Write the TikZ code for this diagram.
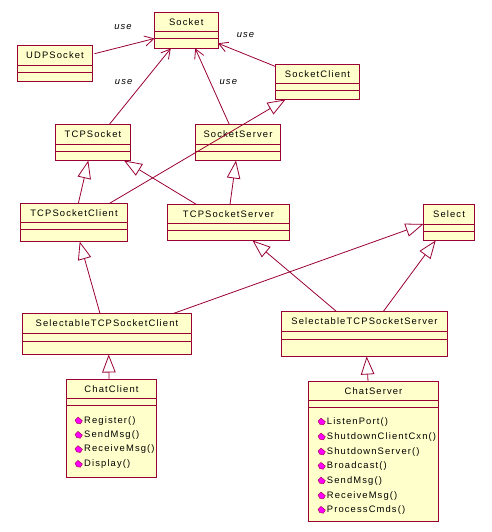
\documentclass[tikz,border=0pt]{standalone}
\usepackage{fontspec}
\setmainfont{Liberation Sans}
\newfontfamily\umlfont[LetterSpace=12]{Liberation Sans}
\usepackage{tikz}
\usetikzlibrary{arrows.meta}
\usepackage{xcolor}
\definecolor{umlline}{HTML}{990033}
\definecolor{umlfill}{HTML}{FFFFCC}
\definecolor{umlicon}{HTML}{FF00FF}

\tikzset{
  classbox/.style={draw=umlline, fill=umlfill, line width=0.9pt, inner sep=0pt, outer sep=0pt},
  classname/.style={inner sep=0pt, font=\umlfont\fontsize{9.4}{11}\selectfont},
  methodname/.style={inner sep=0pt, anchor=west, font=\umlfont\fontsize{9.4}{11}\selectfont},
  uselabel/.style={inner sep=0pt, font=\umlfont\itshape\fontsize{9.4}{11}\selectfont},
  divider/.style={umlline, line width=0.9pt},
  uses/.style={umlline, line width=0.8pt, -{Straight Barb[length=9pt,width=10pt]}},
  inherits/.style={umlline, line width=0.8pt, -{Triangle[open,length=18pt,width=13.5pt]}},
  methodicon/.style={fill=umlicon, draw=umlline, line width=0.4pt}
}

% name, left, top, right, bottom, first divider, second divider, text
\newcommand{\umlclass}[8]{%
  \node[classbox, minimum width=#4pt-#2pt, minimum height=#5pt-#3pt]
    (#1) at ({(#2+#4)/2}, {(#3+#5)/2}) {};
  \draw[divider] (#2, #6) -- (#4, #6);
  \draw[divider] (#2, #7) -- (#4, #7);
  \node[classname] (#1-name) at ({(#2+#4)/2}, {(#3+#6)/2}) {#8};
}
\newcommand{\umlicon}[2]{%
  \draw[methodicon] (#1-3.7, #2-0.6) -- ++(3, -3) -- ++(4.4, 3.6) -- ++(-2, 3.2) -- ++(-3.6, -0.6) -- cycle;
}

\begin{document}
\begin{tikzpicture}[x=1pt, y=-1pt]

% === Wymiary ===
\useasboundingbox (0,0) rectangle (491,532);
\fill[white] (0,0) rectangle (491,532);

% === Klasy ===
\umlclass{socket}{154.5}{12.5}{218}{48.5}{31.5}{38.5}{Socket}
\umlclass{udpsocket}{17.5}{45.5}{92.5}{81.5}{65.5}{72.5}{UDPSocket}
\umlclass{socketclient}{275.5}{64.5}{359.5}{99.5}{83.5}{90.5}{SocketClient}
\umlclass{tcpsocket}{55.5}{124.5}{130.5}{160.5}{144.5}{151.5}{TCPSocket}
\umlclass{socketserver}{195.5}{124.5}{280.5}{160.5}{144.5}{151.5}{SocketServer}
\umlclass{tcpclient}{20.5}{203.5}{127.5}{241.5}{222.5}{229.5}{TCPSocketClient}
\umlclass{tcpserver}{167.5}{204.5}{289.5}{240.5}{223.5}{230.5}{TCPSocketServer}
\umlclass{select}{423.5}{204.5}{474.5}{240.5}{224.5}{231.5}{Select}
\umlclass{selclient}{22.5}{313.5}{191.5}{354.5}{333.5}{341.5}{SelectableTCPSocketClient}
\umlclass{selserver}{281.5}{311.5}{447.5}{356.5}{331.5}{339.5}{SelectableTCPSocketServer}
\umlclass{chatclient}{66.5}{379.5}{156.5}{477}{398.5}{405.5}{ChatClient}
\umlclass{chatserver}{308.5}{381.5}{438.5}{521.5}{400.5}{407.5}{ChatServer}

% === Zaleznosci "use" ===
\draw[uses] ([xshift=2pt, yshift=9.8pt]udpsocket.east) -- ([yshift=-8pt]socket.west);
\draw[uses] ([xshift=16.3pt]tcpsocket.north) -- ([xshift=-15.5pt]socket.south);
\draw[uses] ([xshift=-8.7pt]socketserver.north) -- ([xshift=9pt]socket.south);
\draw[uses] ([yshift=15.5pt]socketclient.west) -- ([yshift=-12.8pt]socket.east);

\node[uselabel] (use-udp) at (123, 26.7) {use};
\node[uselabel] (use-tcp) at (123.7, 82) {use};
\node[uselabel] (use-server) at (228.3, 82) {use};
\node[uselabel] (use-client) at (245.5, 35) {use};

% === Dziedziczenie ===
\draw[inherits] ([xshift=4.3pt]tcpclient.north) -- ([xshift=-4.7pt]tcpsocket.south);
\draw[inherits] ([xshift=35.3pt]tcpclient.north) -- ([xshift=-32pt]socketclient.south);
\draw[inherits] ([xshift=-32pt]tcpserver.north) -- ([xshift=31pt]tcpsocket.south);
\draw[inherits] ([xshift=1.5pt]tcpserver.north) -- ([xshift=-2pt]socketserver.south);
\draw[inherits] ([xshift=-7pt]selclient.north) -- ([xshift=5.7pt]tcpclient.south);
\draw[inherits] ([xshift=66.3pt]selclient.north) -- ([yshift=-1.5pt]select.west);
\draw[inherits] ([xshift=-28pt]selserver.north) -- ([xshift=24pt]tcpserver.south);
\draw[inherits] ([xshift=18.8pt]selserver.north) -- ([xshift=-13.3pt]select.south);
\draw[inherits] ([xshift=-2.5pt]chatclient.north) -- ([xshift=1.7pt]selclient.south);
\draw[inherits] ([xshift=-5.5pt]chatserver.north) -- ([xshift=2.2pt]selserver.south);

% === Metody ChatClient ===
\foreach \methodname/\methody [count=\i] in {Register()/420.7, SendMsg()/435, ReceiveMsg()/449.3, Display()/464} {
  \umlicon{78.7}{\methody}
  \node[methodname] (chatclient-m\i) at (84, \methody) {\methodname};
}

% === Metody ChatServer ===
\foreach \methodname/\methody [count=\i] in {ListenPort()/421.7, ShutdownClientCxn()/436.7, ShutdownServer()/451.7, Broadcast()/466, SendMsg()/480.7, ReceiveMsg()/495.7, ProcessCmds()/510} {
  \umlicon{321.7}{\methody}
  \node[methodname] (chatserver-m\i) at (326.7, \methody) {\methodname};
}

\end{tikzpicture}
\end{document}
